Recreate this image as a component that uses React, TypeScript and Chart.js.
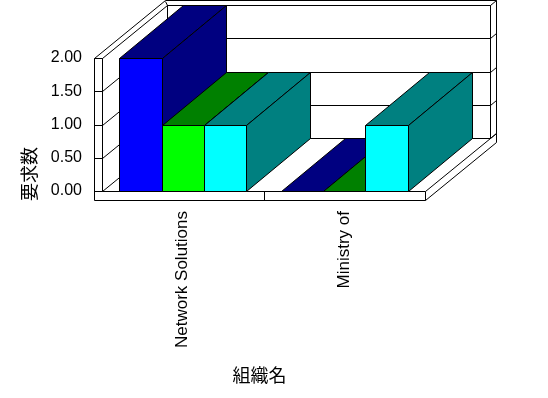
import React, { useEffect, useRef } from "react";
import { Chart, registerables } from "chart.js";
Chart.register(...registerables);

const categories = ["Network Solutions", "Ministry of"];
const seriesA = [2, 0];
const seriesB = [1, 0];
const seriesC = [1, 1];
const yTickLabels = ["0.00", "0.50", "1.00", "1.50", "2.00"];
const yTitle = "要求数";
const xTitle = "組織名";
const frontColors = ["#0000FF", "#00FF00", "#00FFFF"];
const sideColors = ["#000080", "#008000", "#008080"];

export default function App() {
  const ref = useRef<HTMLCanvasElement>(null);
  useEffect(() => {
    const canvas = ref.current!;
    const DX = 65, DY = -53, TX = 6, TY = -5, WALL = 8, FLOOR = 9, BDX = 64, BDY = -53;
    const r = Math.round;
    const plugin = {
      id: "box3d",
      beforeDatasetsDraw(chart: any) {
        const ctx = chart.ctx as CanvasRenderingContext2D;
        const { left: L, right: R, top: T, bottom: B } = chart.chartArea;
        const ys = chart.scales.y;
        const xs = chart.scales.x;
        ctx.save();
        ctx.lineWidth = 1;
        ctx.strokeStyle = "#000";
        const path = (pts: number[][]) => {
          ctx.beginPath();
          pts.forEach(([x, y], i) => {
            const px = r(x) + 0.5, py = r(y) + 0.5;
            if (i) ctx.lineTo(px, py);
            else ctx.moveTo(px, py);
          });
        };
        const line = (pts: number[][]) => {
          path(pts);
          ctx.stroke();
        };
        const poly = (pts: number[][], fill: string, stroke = true) => {
          path(pts);
          ctx.closePath();
          ctx.fillStyle = fill;
          ctx.fill();
          if (stroke) ctx.stroke();
        };
        const tickYs = ys.ticks.map((t: any) => ys.getPixelForValue(t.value));
        // outer silhouette
        poly(
          [
            [L - WALL, T],
            [L - WALL + DX + TX, T + DY + TY],
            [R + DX + TX, T + DY + TY],
            [R + DX + TX, B + DY + TY + FLOOR],
            [R, B + FLOOR],
            [L - WALL, B + FLOOR],
          ],
          "#fff"
        );
        // back wall inner face
        line([[L + DX, T + DY], [R + DX, T + DY], [R + DX, B + DY], [L + DX, B + DY], [L + DX, T + DY]]);
        // back wall gridlines + right thickness diagonals
        tickYs.forEach((y: number) => {
          line([[L + DX, y + DY], [R + DX, y + DY]]);
          line([[R + DX, y + DY], [R + DX + TX, y + DY + TY]]);
          // left wall gridlines
          line([[L, y], [L + DX, y + DY]]);
          // ticks on left wall front face
          line([[L - WALL, y], [L, y]]);
        });
        // left wall front face / floor front face
        line([[L - WALL, T], [L, T], [L, B], [R, B], [R, B + FLOOR]]);
        // floor right edge
        line([[R, B], [R + DX, B + DY], [R + DX + TX, B + DY + TY]]);
        // back wall top outer corner
        line([[L + DX, T + DY], [L + DX - 2, T + DY + TY + 1]]);
        // category separators on floor front face
        for (let i = 1; i < categories.length; i++) {
          const sx = (xs.getPixelForValue(i - 1) + xs.getPixelForValue(i)) / 2;
          line([[sx, B], [sx, B + FLOOR]]);
        }
        // bars, left to right
        const metas = chart.data.datasets.map((_: any, j: number) => chart.getDatasetMeta(j));
        for (let i = 0; i < categories.length; i++) {
          metas.forEach((meta: any, j: number) => {
            const el = meta.data[i];
            const { x, y, base, width } = el.getProps(["x", "y", "base", "width"], true);
            const x0 = x - width / 2, x1 = x + width / 2;
            poly([[x0, y], [x1, y], [x1 + BDX, y + BDY], [x0 + BDX, y + BDY]], sideColors[j]);
            if (base - y > 0.5) {
              poly([[x1, y], [x1 + BDX, y + BDY], [x1 + BDX, base + BDY], [x1, base]], sideColors[j]);
              poly([[x0, y], [x1, y], [x1, base], [x0, base]], frontColors[j]);
            }
          });
        }
        ctx.restore();
        return false;
      },
      afterDraw(chart: any) {
        const ctx = chart.ctx as CanvasRenderingContext2D;
        const { left: L, right: R } = chart.chartArea;
        ctx.save();
        ctx.fillStyle = "#000";
        ctx.font = '18px "Noto Sans CJK JP"';
        ctx.textAlign = "center";
        ctx.textBaseline = "middle";
        ctx.fillText(xTitle, (L + R) / 2 - 4, 375);
        ctx.translate(29, 174);
        ctx.rotate(-Math.PI / 2);
        ctx.fillText(yTitle, 0, 0);
        ctx.restore();
      },
    };
    const chart = new Chart(canvas, {
      type: "bar",
      data: {
        labels: categories,
        datasets: [
          { data: seriesA, backgroundColor: frontColors[0] },
          { data: seriesB, backgroundColor: frontColors[1] },
          { data: seriesC, backgroundColor: frontColors[2] },
        ],
      },
      options: {
        animation: false,
        responsive: false,
        devicePixelRatio: 1,
        layout: { padding: { left: 0, top: 58, right: 123, bottom: 0 } },
        datasets: { bar: { categoryPercentage: 0.786, barPercentage: 1 } },
        plugins: { legend: { display: false }, tooltip: { enabled: false } },
        scales: {
          x: {
            grid: { display: false, drawTicks: false },
            border: { display: false },
            ticks: {
              minRotation: 90,
              maxRotation: 90,
              autoSkip: false,
              padding: 20,
              color: "#000",
              font: { family: "Liberation Sans", size: 17 },
            },
            afterFit: (s: any) => {
              s.height = 207;
            },
          },
          y: {
            min: 0,
            max: 2,
            grid: { display: false, drawTicks: false },
            border: { display: false },
            ticks: {
              stepSize: 0.5,
              padding: 20,
              color: "#000",
              font: { family: "Liberation Sans", size: 16 },
              callback: (_v: any, i: number) => yTickLabels[i],
            },
            afterFit: (s: any) => {
              s.width = 102;
            },
          },
        },
      },
      plugins: [plugin],
    } as any);
    return () => chart.destroy();
  }, []);
  return (
    <div style={{ position: "fixed", left: 0, top: 0, width: 548, height: 398, background: "#fff" }}>
      <canvas ref={ref} width={548} height={398} style={{ display: "block" }} />
    </div>
  );
}
